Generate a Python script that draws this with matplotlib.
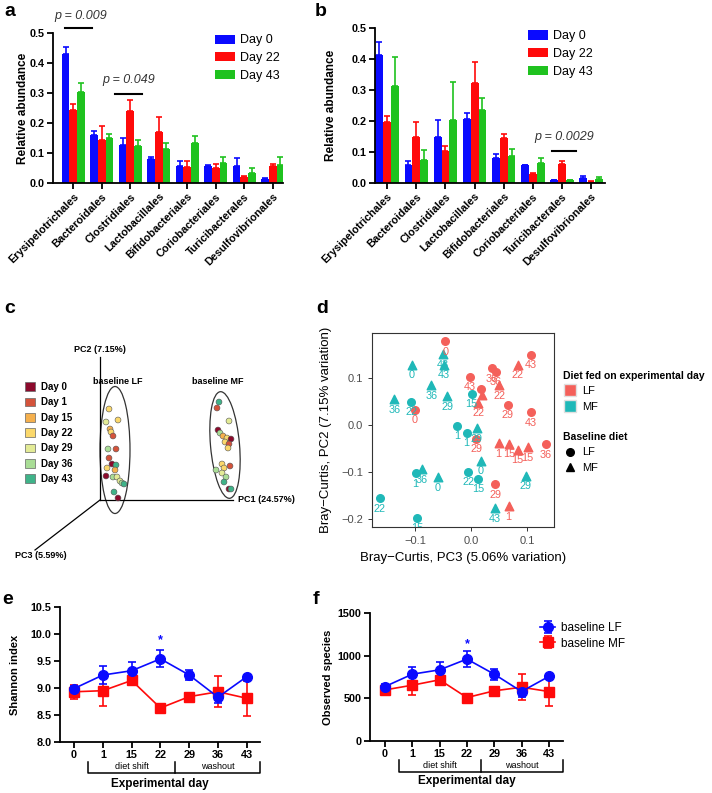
import numpy as np
import matplotlib
matplotlib.use('Agg')
from matplotlib import pyplot as plt
from matplotlib.lines import Line2D
from matplotlib.patches import Ellipse, Patch

plt.rcParams['font.family'] = ['Liberation Sans', 'DejaVu Sans']

W, H = 712, 793

# ---- panels a / b : relative abundance by order ----
orders = ['Erysipelotrichales', 'Bacteroidales', 'Clostridiales', 'Lactobacillales',
          'Bifidobacteriales', 'Coriobacteriales', 'Turicibacterales', 'Desulfovibrionales']
bar_days = ['Day 0', 'Day 22', 'Day 43']

a_day0 = [0.430, 0.160, 0.128, 0.080, 0.056, 0.058, 0.057, 0.013]
a_day0_err = [0.023, 0.012, 0.022, 0.006, 0.018, 0.003, 0.025, 0.003]
a_day22 = [0.243, 0.143, 0.240, 0.170, 0.054, 0.050, 0.020, 0.057]
a_day22_err = [0.020, 0.047, 0.036, 0.050, 0.019, 0.013, 0.003, 0.008]
a_day43 = [0.305, 0.150, 0.123, 0.113, 0.133, 0.066, 0.032, 0.060]
a_day43_err = [0.030, 0.012, 0.020, 0.019, 0.023, 0.021, 0.019, 0.027]

b_day0 = [0.414, 0.058, 0.148, 0.206, 0.080, 0.057, 0.009, 0.015]
b_day0_err = [0.040, 0.012, 0.054, 0.020, 0.015, 0.002, 0.002, 0.006]
b_day22 = [0.196, 0.148, 0.102, 0.323, 0.145, 0.028, 0.062, 0.004]
b_day22_err = [0.019, 0.050, 0.016, 0.067, 0.014, 0.004, 0.008, 0.001]
b_day43 = [0.313, 0.073, 0.204, 0.235, 0.088, 0.066, 0.009, 0.012]
b_day43_err = [0.092, 0.032, 0.121, 0.039, 0.023, 0.014, 0.002, 0.008]

# ---- panel c : PCoA projection (drawing units) ----
c_day_names = ['Day 0', 'Day 1', 'Day 15', 'Day 22', 'Day 29', 'Day 36', 'Day 43']
c_day_colors = ['#8c0a2c', '#d4533b', '#f5b04d', '#fbd86b', '#e3eb96', '#a9dd96', '#3fb389']
c_x = [109, 106, 118, 110, 111, 113, 108, 116, 109, 112, 116, 107, 115, 106, 113, 117, 120, 122, 124, 114, 118,
       219, 217, 229, 218, 220, 223, 227, 231, 225, 229, 228, 222, 230, 224, 216, 222, 226, 224, 229, 231]
c_y = [409, 422, 420, 429, 432, 436, 449, 449, 458, 464, 465, 468, 470, 476, 477, 477, 481, 483, 484, 492, 498,
       402, 408, 421, 430, 433, 436, 438, 439, 442, 444, 448, 464, 466, 468, 470, 473, 477, 482, 489, 489]
c_day = [3, 4, 3, 2, 3, 1, 5, 1, 1, 0, 6, 3, 2, 0, 5, 4, 4, 5, 6, 6, 0,
         6, 1, 4, 0, 5, 2, 3, 0, 3, 1, 3, 3, 1, 3, 5, 4, 5, 6, 0, 6]

# ---- panel d : Bray-Curtis PC3 vs PC2 ----
d_x = [-0.046, -0.051, -0.048, -0.106, -0.071, -0.043, -0.137, -0.107, -0.100, -0.002, 0.001, 0.017, 0.020, 0.013,
       0.037, 0.044, 0.050, 0.083, 0.107, 0.065, 0.107, -0.025, -0.008, 0.010, 0.009, 0.049, 0.068, 0.083, 0.101,
       0.133, 0.017, -0.099, -0.088, -0.060, -0.005, 0.012, 0.043, 0.098, -0.163, -0.096, 0.043, 0.067]
d_y = [0.177, 0.150, 0.127, 0.127, 0.084, 0.060, 0.054, 0.049, 0.031, 0.102, 0.065, 0.075, 0.063, 0.047,
       0.120, 0.113, 0.084, 0.127, 0.148, 0.042, 0.026, -0.002, -0.017, -0.008, -0.030, -0.040, -0.041, -0.054,
       -0.048, -0.042, -0.077, -0.104, -0.095, -0.112, -0.101, -0.115, -0.127, -0.109, -0.157, -0.198, -0.178, -0.174]
d_diet = ['LF', 'MF', 'MF', 'MF', 'MF', 'MF', 'MF', 'MF', 'LF', 'LF', 'MF', 'LF', 'LF', 'LF',
          'LF', 'LF', 'LF', 'LF', 'LF', 'LF', 'LF', 'MF', 'MF', 'MF', 'LF', 'LF', 'LF', 'LF', 'LF',
          'LF', 'MF', 'MF', 'MF', 'MF', 'MF', 'MF', 'LF', 'MF', 'MF', 'MF', 'MF', 'LF']
d_base = ['LF', 'MF', 'MF', 'MF', 'MF', 'MF', 'MF', 'LF', 'LF', 'LF', 'LF', 'LF', 'MF', 'MF',
          'LF', 'LF', 'MF', 'MF', 'LF', 'LF', 'LF', 'LF', 'LF', 'MF', 'LF', 'MF', 'MF', 'MF', 'MF',
          'LF', 'MF', 'LF', 'MF', 'MF', 'LF', 'LF', 'LF', 'MF', 'LF', 'LF', 'MF', 'MF']
d_label = ['0', '43', '43', '0', '36', '29', '36', '22', '0', '43', '15', '', '', '22',
           '36', '36', '22', '22', '43', '29', '43', '1', '1', '29', '29', '1', '15', '15', '15',
           '36', '0', '1', '36', '0', '22', '15', '29', '29', '22', '15', '43', '1']

# ---- panels e / f : alpha diversity ----
exp_days = ['0', '1', '15', '22', '29', '36', '43']
e_lf = [8.99, 9.24, 9.32, 9.54, 9.24, 8.83, 9.21]
e_lf_err = [0.05, 0.16, 0.17, 0.16, 0.10, 0.11, 0.04]
e_mf = [8.93, 8.95, 9.14, 8.63, 8.84, 8.93, 8.81]
e_mf_err = [0.13, 0.28, 0.05, 0.03, 0.07, 0.29, 0.32]
f_lf = [638, 783, 834, 960, 783, 580, 756]
f_lf_err = [35, 90, 95, 95, 65, 70, 35]
f_mf = [599, 654, 717, 509, 588, 630, 580]
f_mf_err = [50, 110, 30, 20, 40, 150, 170]

BLUE, RED, GREEN = '#0a0aff', '#ff0a0a', '#1fc21f'
D_RED, D_CYAN = '#f4605a', '#1fb8b8'


def px_axes(fig, l, t, r, b):
  return fig.add_axes([l / W, 1 - b / H, (r - l) / W, (b - t) / H])


def prism_style(ax):
  for s in ['top', 'right']:
    ax.spines[s].set_visible(False)
  for s in ['left', 'bottom']:
    ax.spines[s].set_linewidth(1.3)
  ax.tick_params(width=1.3, length=4, labelsize=7.8, pad=2)
  for lab in ax.get_xticklabels() + ax.get_yticklabels():
    lab.set_fontweight('bold')


def bar_panel(ax, series, errs, xlim):
  n = len(orders)
  x = np.arange(n)
  bw = 0.27
  for k, col in enumerate([BLUE, RED, GREEN]):
    pos = x + (k - 1) * bw
    ax.bar(pos, series[k], bw, color=col, label=bar_days[k])
    ax.errorbar(pos, series[k], yerr=[np.zeros(n), errs[k]], fmt='none', ecolor=col,
                elinewidth=1.2, capsize=2, capthick=1.2)
  ax.set_xlim(*xlim)
  ax.set_ylim(0, 0.5)
  ax.set_yticks([0, 0.1, 0.2, 0.3, 0.4, 0.5])
  ax.set_xticks(x)
  ax.set_xticklabels(orders, rotation=45, ha='right', rotation_mode='anchor')
  ax.set_ylabel('Relative abundance', fontsize=8.5, fontweight='bold')
  prism_style(ax)


def line_panel(ax, lf, lf_err, mf, mf_err, ylim, yticks, ylabel, star_y, xlim):
  x = np.arange(len(exp_days))
  ax.errorbar(x, mf, yerr=mf_err, color=RED, marker='s', markersize=6.5, lw=1.2,
              elinewidth=1.2, capsize=3, capthick=1.2, label='baseline MF')
  ax.errorbar(x, lf, yerr=lf_err, color=BLUE, marker='o', markersize=7, lw=1.2,
              elinewidth=1.2, capsize=3, capthick=1.2, label='baseline LF')
  ax.text(3, star_y, '*', color=BLUE, ha='center', va='center', fontsize=9, fontweight='bold')
  ax.set_xlim(*xlim)
  ax.set_ylim(*ylim)
  ax.set_yticks(yticks)
  ax.set_xticks(x)
  ax.set_xticklabels(exp_days)
  ax.set_ylabel(ylabel, fontsize=8, fontweight='bold')
  ax.set_xlabel('Experimental day', fontsize=8.5, fontweight='bold')
  prism_style(ax)


fig = plt.figure(figsize=(W / 100, H / 100), dpi=100)

# a
ax_a = px_axes(fig, 53, 33, 283, 183)
bar_panel(ax_a, [a_day0, a_day22, a_day43], [a_day0_err, a_day22_err, a_day43_err], (-0.71, 7.36))
ax_a.yaxis.set_label_coords(-0.105, 0.5)
ax_a.plot([-0.3, 0.65], [0.517, 0.517], color='k', lw=1.5, clip_on=False)
ax_a.text(0.27, 0.557, 'p = 0.009', style='italic', fontsize=9, ha='center', va='center', color='#333333')
ax_a.plot([1.46, 2.42], [0.297, 0.297], color='k', lw=1.5)
ax_a.text(1.95, 0.343, 'p = 0.049', style='italic', fontsize=9, ha='center', va='center', color='#333333')
ax_a.legend(loc='upper left', bbox_to_anchor=(0.705, 0.99), frameon=False, fontsize=9,
            handlelength=1.6, handleheight=0.75, labelspacing=0.45, handletextpad=0.4,
            borderpad=0, borderaxespad=0)

# b
ax_b = px_axes(fig, 375, 28, 605, 183)
bar_panel(ax_b, [b_day0, b_day22, b_day43], [b_day0_err, b_day22_err, b_day43_err], (-0.42, 7.48))
ax_b.yaxis.set_label_coords(-0.165, 0.5)
ax_b.plot([5.66, 6.49], [0.103, 0.103], color='k', lw=1.5)
ax_b.text(6.08, 0.148, 'p = 0.0029', style='italic', fontsize=9, ha='center', va='center', color='#333333')
ax_b.legend(loc='upper left', bbox_to_anchor=(0.665, 0.985), frameon=False, fontsize=9,
            handlelength=1.6, handleheight=0.75, labelspacing=0.45, handletextpad=0.4,
            borderpad=0, borderaxespad=0)

# c
ax_c = px_axes(fig, 0, 295, 310, 565)
ax_c.set_xlim(0, 310)
ax_c.set_ylim(565, 295)
ax_c.axis('off')
ax_c.plot([100, 100], [357, 500], color='k', lw=0.9)
ax_c.plot([100, 233], [500, 500], color='k', lw=0.9)
ax_c.plot([100, 35], [500, 550], color='k', lw=0.9)
ax_c.text(100, 354, 'PC2 (7.15%)', fontsize=6.5, fontweight='bold', ha='center', va='bottom')
ax_c.text(238, 500, 'PC1 (24.57%)', fontsize=6.5, fontweight='bold', ha='left', va='center')
ax_c.text(15, 555, 'PC3 (5.59%)', fontsize=6.5, fontweight='bold', ha='left', va='center')
ax_c.text(118, 381, 'baseline LF', fontsize=6.5, fontweight='bold', ha='center', va='center')
ax_c.text(218, 381, 'baseline MF', fontsize=6.5, fontweight='bold', ha='center', va='center')
ax_c.add_patch(Ellipse((115, 450), 30, 127, angle=0, fill=False, ec='#333333', lw=0.9))
ax_c.add_patch(Ellipse((225, 445), 29, 107, angle=-5, fill=False, ec='#333333', lw=0.9))
ax_c.scatter(c_x, c_y, s=18, c=[c_day_colors[i] for i in c_day], edgecolors='#555555', linewidths=0.4, zorder=3)
ax_c.legend(handles=[Patch(facecolor=col, edgecolor='#666666', lw=0.5) for col in c_day_colors],
            labels=c_day_names, loc='upper left', bbox_to_anchor=(25 / 310, (565 - 382) / 270),
            frameon=False, prop={'size': 7, 'weight': 'bold'}, handlelength=1.0, handleheight=1.0,
            labelspacing=0.55, handletextpad=0.6, borderpad=0, borderaxespad=0)

# d
ax_d = px_axes(fig, 372, 333, 554, 527)
d_col = {'LF': D_RED, 'MF': D_CYAN}
d_mark = {'LF': 'o', 'MF': '^'}
for base in ['LF', 'MF']:
  for diet in ['LF', 'MF']:
    idx = [i for i in range(len(d_x)) if d_base[i] == base and d_diet[i] == diet]
    ax_d.scatter([d_x[i] for i in idx], [d_y[i] for i in idx], marker=d_mark[base],
                 s=30 if base == 'LF' else 38, color=d_col[diet], zorder=3)
for i in range(len(d_x)):
  ax_d.annotate(d_label[i], (d_x[i], d_y[i]), xytext=(0, -7.5), textcoords='offset points',
                ha='center', va='center', fontsize=7.8, color=d_col[d_diet[i]], clip_on=True, zorder=4)
ax_d.set_xlim(-0.177, 0.148)
ax_d.set_ylim(-0.218, 0.195)
ax_d.set_xticks([-0.1, 0.0, 0.1])
ax_d.set_xticklabels(['\u22120.1', '0.0', '0.1'])
ax_d.set_yticks([-0.2, -0.1, 0.0, 0.1])
ax_d.set_yticklabels(['\u22120.2', '\u22120.1', '0.0', '0.1'])
ax_d.tick_params(color='#333333', labelcolor='#4d4d4d', labelsize=8, length=3, width=0.7)
for s in ax_d.spines.values():
  s.set_color('#333333')
  s.set_linewidth(0.8)
ax_d.set_xlabel('Bray\u2212Curtis, PC3 (5.06% variation)', fontsize=9.5)
ax_d.set_ylabel('Bray\u2212Curtis, PC2 (7.15% variation)', fontsize=9.5)
ax_d.yaxis.set_label_coords(-0.22, 0.5)
leg1 = ax_d.legend(handles=[Line2D([], [], ls='', marker='s', markersize=9, color=D_RED, mec='#e0e0e0'),
                            Line2D([], [], ls='', marker='s', markersize=9, color=D_CYAN, mec='#e0e0e0')],
                   labels=['LF', 'MF'], title='Diet fed on experimental day', loc='upper left',
                   bbox_to_anchor=(1.05, 0.805), frameon=False, fontsize=8, alignment='left',
                   title_fontproperties={'weight': 'bold', 'size': 7.5}, handlelength=1.2,
                   handletextpad=0.5, labelspacing=0.5, borderpad=0, borderaxespad=0)
ax_d.add_artist(leg1)
ax_d.legend(handles=[Line2D([], [], ls='', marker='o', markersize=5.5, color='k'),
                     Line2D([], [], ls='', marker='^', markersize=6, color='k')],
            labels=['LF', 'MF'], title='Baseline diet', loc='upper left',
            bbox_to_anchor=(1.05, 0.49), frameon=False, fontsize=8, alignment='left',
            title_fontproperties={'weight': 'bold', 'size': 7.5}, handlelength=1.2,
            handletextpad=0.5, labelspacing=0.5, borderpad=0, borderaxespad=0)

# e
ax_e = px_axes(fig, 60, 607, 260, 742)
line_panel(ax_e, e_lf, e_lf_err, e_mf, e_mf_err, (8.0, 10.5), [8.0, 8.5, 9.0, 9.5, 10.0, 10.5],
           'Shannon index', 9.88, (-0.49, 6.46))
ax_e.yaxis.set_label_coords(-0.2, 0.5)
ax_e.xaxis.set_label_coords(0.5, -0.27)

# f
ax_f = px_axes(fig, 370, 613, 563, 741)
line_panel(ax_f, f_lf, f_lf_err, f_mf, f_mf_err, (0, 1500), [0, 500, 1000, 1500],
           'Observed species', 1140, (-0.55, 6.52))
ax_f.yaxis.set_label_coords(-0.19, 0.5)
ax_f.xaxis.set_label_coords(0.5, -0.265)
h, l = ax_f.get_legend_handles_labels()
ax_f.legend(h[::-1], l[::-1], loc='upper left', bbox_to_anchor=(0.88, 0.93), frameon=False,
            fontsize=8.5, handlelength=1.3, handletextpad=0.5, labelspacing=0.3,
            borderpad=0, borderaxespad=0)

# diet shift / washout brackets
for ax, yb, yt, ytxt in [(ax_e, -0.23, -0.148, -0.185), (ax_f, -0.242, -0.148, -0.195)]:
  tr = ax.get_xaxis_transform()
  right = ax.get_xlim()[1]
  ax.plot([0.5, 0.5, right, right], [yt, yb, yb, yt], color='k', lw=1.1, transform=tr, clip_on=False)
  ax.plot([3.5, 3.5], [yb, yt], color='k', lw=1.1, transform=tr, clip_on=False)
  ax.text(2.0, ytxt, 'diet shift', transform=tr, ha='center', va='center', fontsize=6.5)
  ax.text((3.5 + right) / 2, ytxt, 'washout', transform=tr, ha='center', va='center', fontsize=6.5)

for lab, x, y in [('a', 10, 12), ('b', 321, 12), ('c', 10, 308), ('d', 322, 308), ('e', 8, 600), ('f', 316, 600)]:
  fig.text(x / W, 1 - y / H, lab, fontsize=14, fontweight='bold', ha='center', va='center')

fig.savefig('out.png', dpi=100)
